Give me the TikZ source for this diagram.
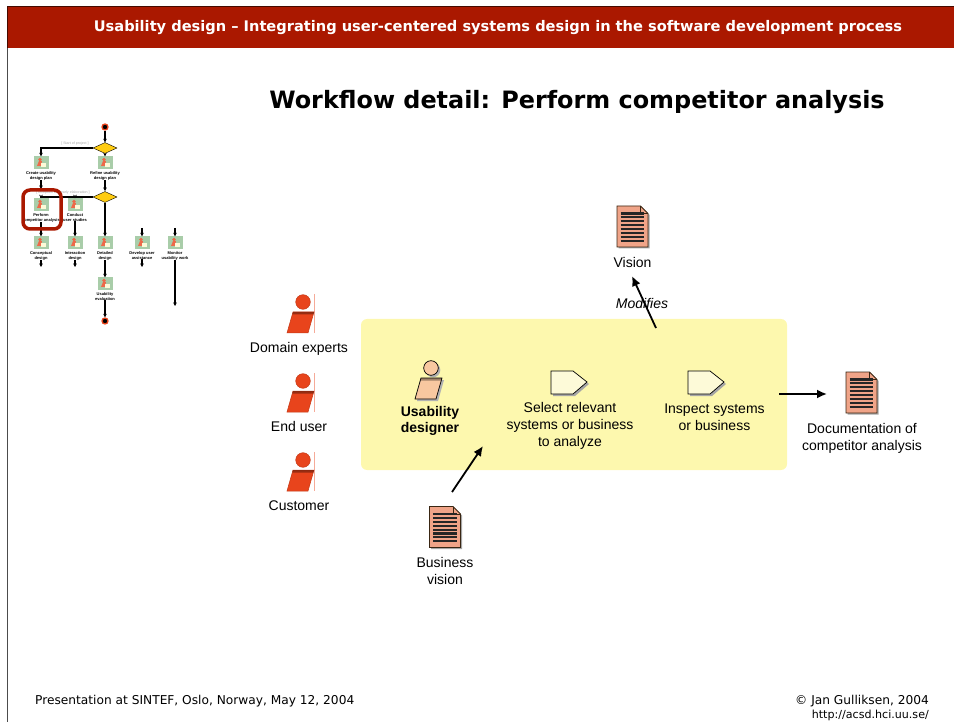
\documentclass[tikz,border=0pt]{standalone}
\usepackage{fontspec}
\setmainfont{Liberation Sans}
\newfontfamily\verdfont{DejaVu Sans}
\usepackage{xcolor}
\usepackage{tikz}
\usetikzlibrary{calc}
\usetikzlibrary{positioning}
\usetikzlibrary{arrows.meta}
\usetikzlibrary{shadows}
\usetikzlibrary{shapes.geometric}
\definecolor{bandred}{HTML}{AA1800}
\definecolor{paneyellow}{HTML}{FDF8AE}
\definecolor{docsalmon}{HTML}{F0A488}
\definecolor{actred}{HTML}{E8441C}
\definecolor{actpeach}{HTML}{F8C8A0}
\definecolor{stepcream}{HTML}{FDFAD8}
\definecolor{minigreen}{HTML}{A9CDA9}
\definecolor{miniyellow}{HTML}{FFCC11}

\begin{document}
\begin{tikzpicture}[
    y = -1pt,
    x = 1pt,
    font = \fontsize{14}{17}\selectfont,
    lab/.style = {
      align=center,
      inner sep=0pt
    },
    link/.style = {
      -{Latex[length=10pt,width=9pt]},
      line width=1.8pt
    },
    minilink/.style = {
      -{Stealth[length=3.5pt,width=3.5pt]},
      line width=1.1pt
    },
    minilab/.style = {
      align=center,
      inner sep=0pt,
      font=\fontsize{4}{4.8}\selectfont\bfseries
    },
    guardlab/.style = {
      inner sep=0pt,
      text=gray!70,
      font=\fontsize{3.6}{4}\selectfont
    },
    actf/.style = {
      rectangle,
      fill=minigreen,
      minimum width=15pt,
      minimum height=13pt,
      inner sep=0pt,
      path picture={
        \fill[actred!80] (-1,-3.5) circle (1.8);
        \fill[actred!80] (-4,3) -- (-2,-2) -- (1,-2) -- (0,3) -- cycle;
        \fill[stepcream] (0,0) rectangle (5,4);
      }
    },
    diamf/.style = {
      diamond,
      draw=black,
      fill=miniyellow,
      line width=.4pt,
      minimum width=24pt,
      minimum height=11pt,
      inner sep=0pt
    },
    endf/.style = {
      circle,
      draw=actred,
      fill=black,
      line width=1.3pt,
      minimum size=6pt,
      inner sep=0pt
    },
    actorred/.style = {
      fill=actred,
      draw=actred!85!black,
      line width=.5pt
    },
    actorpeach/.style = {
      fill=actpeach,
      draw=black,
      line width=.7pt
    },
    pics/actorp/.style = {
      code = {
        \path[pic actions] (-16,31) -- (-10,10) -- (11,10) -- (5,31) -- cycle;
        \path[pic actions] (0,0) circle (7.3);
      }
    },
    pics/actorband/.style = {
      code = {
        \fill[black,fill opacity=.35] (-10,10) -- (11,10) -- (10.4,12.5) -- (-10.7,12.5) -- cycle;
      }
    },
    pics/stepp/.style = {
      code = {
        \fill[gray!70] (2,2) -- (24,2) -- (38,13) -- (24,25) -- (2,25) -- cycle;
        \filldraw[fill=stepcream,draw=black,line width=.7pt] (0,0) -- (22,0) -- (36,11) -- (22,23) -- (0,23) -- cycle;
      }
    },
    pics/docp/.style = {
      code = {
        \path[fill=docsalmon,draw=black!70!brown,line width=.8pt,
          drop shadow={shadow xshift=1.5pt,shadow yshift=-1.5pt,fill=gray!70,opacity=1}]
          (-15.5,-20.5) -- (8,-20.5) -- (15.5,-13) -- (15.5,20.5) -- (-15.5,20.5) -- cycle;
        \draw[black!70!brown,line width=.7pt] (8,-20.5) -- (8,-13) -- (15.5,-13);
        \foreach \ly in {0,...,7} {
          \draw[black!85,line width=2.1pt] (-12,-13+\ly*3.9) -- (11.5,-13+\ly*3.9);
        }
      }
    }
  ]
    \useasboundingbox (0,0) rectangle (954,722);

    % slide frame
    \fill[bandred] (7,6) rectangle (954,48);
    \draw[black!70,line width=1pt] (7,48) -- (7,722);
    \draw[black!60!bandred,line width=.6pt] (7,48) -- (7,6) -- (954,6);
    \node[lab,text=white,font=\verdfont\fontsize{14.6}{17}\selectfont\bfseries] (head) at (498,28) {Usability design – Integrating user-centered systems design in the software development process};
    \node[lab,font=\verdfont\fontsize{23.9}{30}\selectfont\bfseries] (title) at (577,102) {Workflow detail: Perform competitor analysis};
    \node[lab,anchor=west,font=\verdfont\fontsize{12.2}{14}\selectfont] (foot) at (35,701) {Presentation at SINTEF, Oslo, Norway, May 12, 2004};
    \node[lab,anchor=east,font=\verdfont\fontsize{12.2}{14}\selectfont] (copy) at (929,701) {\textcopyright{} Jan Gulliksen, 2004};
    \node[lab,anchor=east,font=\verdfont\fontsize{11.1}{14}\selectfont] (url) at (929,715.5) {http://acsd.hci.uu.se/};

    % small workflow
    \node[endf] (start) at (105,127) {};
    \node[diamf] (da) at (105,148) {};
    \node[diamf] (db) at (105,197) {};
    \node[actf] (create) at (41,163) {};
    \node[actf] (refine) at (105,163) {};
    \node[actf] (perform) at (41,205) {};
    \node[actf] (conduct) at (75,205) {};
    \node[actf] (concept) at (41,243) {};
    \node[actf] (interact) at (75,243) {};
    \node[actf] (detail) at (105,243) {};
    \node[actf] (develop) at (142,243) {};
    \node[actf] (monitor) at (175,243) {};
    \node[actf] (evaluate) at (105,284) {};
    \node[endf] (stop) at (105,321) {};

    \node[minilab] (createl) [below=1.5pt of create] {Create usability\\design plan};
    \node[minilab] (refinel) [below=1.5pt of refine] {Refine usability\\design plan};
    \node[minilab] (performl) [below=1.5pt of perform] {Perform\\competitor analysis};
    \node[minilab] (conductl) [below=1.5pt of conduct] {Conduct\\user studies};
    \node[minilab] (conceptl) [below=1.5pt of concept] {Conceptual\\design};
    \node[minilab] (interactl) [below=1.5pt of interact] {Interaction\\design};
    \node[minilab] (detaill) [below=1.5pt of detail] {Detailed\\design};
    \node[minilab] (developl) [below=1.5pt of develop] {Develop user\\assistance};
    \node[minilab] (monitorl) [below=1.5pt of monitor] {Monitor\\usability work};
    \node[minilab] (evaluatel) [below=1.5pt of evaluate] {Usability\\evaluation};

    \node[guardlab] (guarda) at (75,143.5) {[ Start of project ]};
    \node[guardlab] (guardb) at (63,193) {[ Inception and early elaboration ]};

    \coordinate (createe) at (41,189);
    \coordinate (refinee) at (105,191);
    \coordinate (develops) at (142,228);
    \coordinate (monitors) at (175,228);
    \coordinate (concepte) at (41,267);
    \coordinate (interacte) at (75,267);
    \coordinate (develope) at (142,267);
    \coordinate (monitore) at (175,306);

    \draw[minilink] (start) -- (da);
    \draw[minilink] (da) -- (refine);
    \draw[minilink] (da) -| (create);
    \draw[minilink] (createl) -- (createe);
    \draw[minilink] (refinel) -- (refinee);
    \draw[minilink] (db) -| (perform);
    \draw[minilink] (db) -| (conduct);
    \draw[minilink] (db) -- (detail);
    \draw[minilink] (performl) -- (concept);
    \draw[minilink] (conductl) -- (interact);
    \draw[minilink] (develops) -- (develop);
    \draw[minilink] (monitors) -- (monitor);
    \draw[minilink] (conceptl) -- (concepte);
    \draw[minilink] (interactl) -- (interacte);
    \draw[minilink] (detaill) -- (evaluate);
    \draw[minilink] (developl) -- (develope);
    \draw[minilink] (monitorl) -- (monitore);
    \draw[minilink] (evaluatel) -- (stop);

    \draw[bandred,line width=3.5pt,rounded corners=7pt] (23,190) rectangle (61,229);

    % yellow panel
    \node[rectangle,fill=paneyellow,rounded corners=6pt,minimum width=426pt,minimum height=151pt,inner sep=0pt] (pane) at (574,394.5) {};

    % roles
    \coordinate (domainp) at (303,302);
    \coordinate (endp) at (303,381);
    \coordinate (customerp) at (303,460);
    \coordinate (designerp) at (431,368);
    \foreach \rolep in {domainp,endp,customerp} {
      \draw[actred!45,line width=1pt] ($(\rolep)+(11,-8)$) -- ($(\rolep)+(11,31)$);
      \pic[actorred] at (\rolep) {actorp};
      \pic at (\rolep) {actorband};
    }
    \pic[fill=gray!60,draw=none] at ($(designerp)+(2,2)$) {actorp};
    \pic[actorpeach] at (designerp) {actorp};
    \pic at (designerp) {actorband};

    \node[lab] (domain) at (299,349) {Domain experts};
    \node[lab] (enduser) at (299,426) {End user};
    \node[lab] (customer) at (299,506) {Customer};
    \node[lab,font=\fontsize{14}{16.5}\selectfont\bfseries] (designer) at (430,421) {Usability\\designer};

    % steps
    \coordinate (selectp) at (551,371);
    \coordinate (inspectp) at (688,371);
    \pic at (selectp) {stepp};
    \pic at (inspectp) {stepp};
    \node[lab] (select) at (570,426) {Select relevant\\systems or business\\to analyze};
    \node[lab] (inspect) at (714.5,417.5) {Inspect systems\\or business};

    % documents
    \coordinate (visiond) at (632.5,226.5);
    \coordinate (compd) at (861.5,392.5);
    \coordinate (busd) at (445,527);
    \pic at (visiond) {docp};
    \pic at (compd) {docp};
    \pic at (busd) {docp};
    \node[lab] (vision) [below=31pt of visiond] {Vision};
    \node[lab] (comp) at (862,438.5) {Documentation of\\competitor analysis};
    \node[lab] (bus) at (445,570.5) {Business\\vision};
    \node[lab,font=\fontsize{14}{17}\selectfont\itshape] (modifies) at (642,303) {Modifies};

    \coordinate (modstart) at (656,328);
    \coordinate (modend) at (632,276);
    \coordinate (busstart) at (452,492);
    \coordinate (busend) at (483,446);
    \coordinate (compstart) at (779,394);
    \coordinate (compend) at (827,394);
    \draw[link] (modstart) -- (modend);
    \draw[link] (busstart) -- (busend);
    \draw[link] (compstart) -- (compend);

  \end{tikzpicture}
\end{document}
